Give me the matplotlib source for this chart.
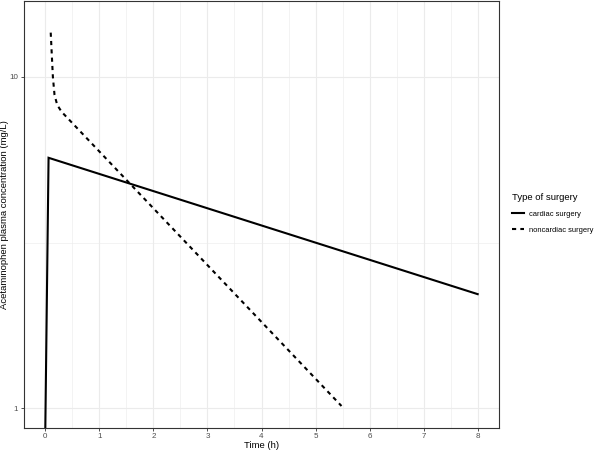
import matplotlib
matplotlib.use("Agg")
import matplotlib.pyplot as plt
from matplotlib.ticker import FixedLocator, NullFormatter

plt.rcParams['font.family'] = ['Liberation Sans', 'DejaVu Sans']

# Data
cardiac_time = [0.0, 0.06, 8.0]
cardiac_conc = [0.874, 5.7, 2.21]

noncardiac_time = [0.10, 0.12, 0.14, 0.17, 0.22, 0.30, 5.48]
noncardiac_conc = [13.6, 11.65, 10.0, 8.83, 8.23, 7.85, 1.016]

series_labels = ["cardiac surgery", "noncardiac surgery"]
legend_title = "Type of surgery"
x_ticks = [0, 1, 2, 3, 4, 5, 6, 7, 8]
y_ticks = [1, 10]

W, H = 600, 451
fig = plt.figure(figsize=(W / 100, H / 100), dpi=100)
ax = fig.add_axes([23.7 / W, (H - 427.7) / H, (499.3 - 23.7) / W, (427.7 - 1) / H])

ax.plot(cardiac_time, cardiac_conc, color='black', lw=1.5, solid_joinstyle='miter',
        label=series_labels[0], zorder=3)
ax.plot(noncardiac_time, noncardiac_conc, color='black', lw=1.5, linestyle=(0, (2, 2)),
        label=series_labels[1], zorder=3)

ax.set_yscale('log')
ax.set_xlim(-0.4, 8.4)
ax.set_ylim(10 ** -0.0586, 10 ** 1.229)

ax.xaxis.set_major_locator(FixedLocator(x_ticks))
ax.xaxis.set_minor_locator(FixedLocator([0.5, 1.5, 2.5, 3.5, 4.5, 5.5, 6.5, 7.5]))
ax.yaxis.set_major_locator(FixedLocator(y_ticks))
ax.yaxis.set_minor_locator(FixedLocator([10 ** 0.5]))
ax.yaxis.set_minor_formatter(NullFormatter())
ax.set_yticklabels([str(v) for v in y_ticks])
ax.set_xticklabels([str(v) for v in x_ticks])

ax.grid(True, which='major', color='#EBEBEB', lw=0.8)
ax.grid(True, which='minor', color='#EBEBEB', lw=0.4)
ax.set_axisbelow(True)
ax.tick_params(which='major', length=2.5, width=0.6, color='#333333', labelsize=5.8,
               labelcolor='#4D4D4D', pad=1.5)
ax.tick_params(which='minor', length=0)
for s in ax.spines.values():
    s.set_color('#333333')
    s.set_linewidth(0.8)

ax.set_xlabel("Time (h)", fontsize=6.8, labelpad=0.5)
ax.set_ylabel("Acetaminophen plasma concentration (mg/L)", fontsize=6.8, labelpad=0.5)

leg = fig.legend(loc='upper left', bbox_to_anchor=(505 / W, 1 - 186 / H), frameon=False,
                 title=legend_title, fontsize=5.4, title_fontsize=6.8, handlelength=1.6,
                 handletextpad=0.65, labelspacing=1.15)
leg._legend_box.align = "left"

fig.savefig("out.png", dpi=100)
